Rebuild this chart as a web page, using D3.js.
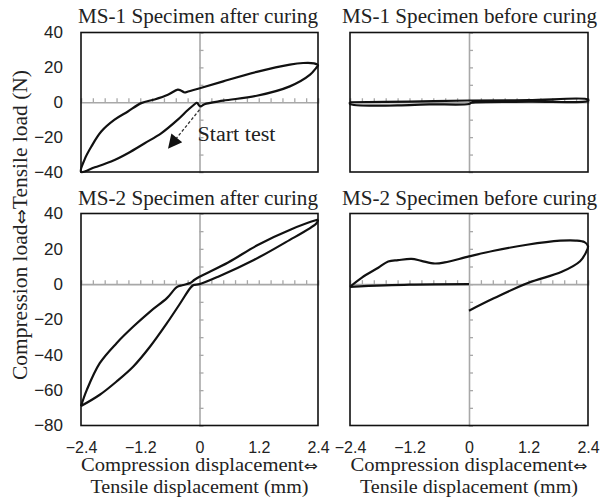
<!DOCTYPE html>
<html>
<head>
<meta charset="utf-8">
<script src="https://cdn.jsdelivr.net/npm/d3@7"></script>
<style>
  body { margin: 0; background: #fff; }
  svg { display: block; }
</style>
</head>
<body>
<svg id="chart" width="609" height="499"></svg>
<script>
// data (displacement mm, load N)
var xTicks = [-2.4, -1.2, 0, 1.2, 2.4];
var yTicksTop = [-40, -20, 0, 20, 40];
var yTicksBottom = [-80, -60, -40, -20, 0, 20, 40];

var ms1After = [
  [-0.05, 0], [-0.23, -4.3], [-0.44, -10], [-0.77, -17.7], [-1.11, -23.5], [-1.45, -29.2],
  [-1.79, -34], [-2.12, -37.3], [-2.4, -40],
  [-2.33, -33], [-2.19, -25.4], [-1.99, -16.8], [-1.72, -10], [-1.45, -5.3], [-1.18, -0.5],
  [-0.91, 1.6], [-0.64, 4.3], [-0.44, 7.2], [-0.37, 6.6], [-0.3, 5.6], [-0.23, 6.2],
  [0.04, 8.3], [0.48, 12], [1.16, 17.4], [1.83, 21.6], [2.1, 22.5], [2.32, 22.3], [2.4, 21.2],
  [2.36, 19.6], [2.24, 15.8], [1.83, 9.1], [1.16, 3.7], [0.48, 0.9], [0.1, -1.1], [0.02, -2.4],
  [-0.05, 0]
];
var ms1Before = [
  [-2.4, 0], [-1.2, 0.4], [0, 1], [1.2, 1.2], [2.4, 1.6],
  [2.4, 0.8], [1.2, 0.3], [0.05, -0.3], [0, -1], [-0.8, -1.2], [-1.2, -1.6], [-2.4, -1], [-2.4, 0]
];
var ms2AfterUpper = [
  [2.4, 36.5], [2.37, 36.3], [1.85, 31], [1.2, 22.5], [0.58, 12.3], [0, 4.2], [-0.1, 2.5],
  [-0.19, 0.6], [-0.35, -0.6], [-0.46, -1.7], [-0.66, -7.9], [-1.0, -15.5], [-1.34, -24],
  [-1.68, -33.4], [-2.02, -44.7], [-2.28, -59.7], [-2.4, -69]
];
var ms2AfterLower = [
  [-2.4, -69], [-2.02, -62.6], [-1.68, -55.1], [-1.34, -46.6], [-1.0, -35.3], [-0.66, -22.1],
  [-0.39, -10.8], [-0.19, -2.3], [-0.12, -0.5], [0, 0], [0.4, 4.5], [1.1, 13.7], [1.75, 23.8],
  [2.37, 34.5], [2.4, 36.5]
];
var ms2BeforeFlat = [[0, 0], [-1.2, -0.3], [-2.4, -1.5]];
var ms2BeforeLoop = [
  [-2.4, -1.5], [-2.16, 3.7], [-1.83, 9.3], [-1.63, 12.8], [-1.43, 13.6], [-1.16, 14.3],
  [-0.96, 13.2], [-0.69, 11.7], [-0.49, 12.3], [0, 15.7], [0.5, 18.9], [1.17, 22.3],
  [1.84, 24.6], [2.15, 24.7], [2.33, 23.8], [2.4, 21.5], [2.36, 18], [2.24, 13], [1.87, 7],
  [1.2, 0.8], [0.5, -8], [0, -15]
];

var panels = [
  { title: 'MS-1 Specimen after curing', col: 0, row: 0, curves: [ms1After] },
  { title: 'MS-1 Specimen before curing', col: 1, row: 0, curves: [ms1Before] },
  { title: 'MS-2 Specimen after curing', col: 0, row: 1, curves: [ms2AfterUpper, ms2AfterLower] },
  { title: 'MS-2 Specimen before curing', col: 1, row: 1, curves: [ms2BeforeFlat, ms2BeforeLoop] }
];

var cols = [[81, 318], [350, 588]],
    rows = [{ range: [172, 32.5], domain: [-40, 40], ticks: yTicksTop, titleY: 23 },
            { range: [425.5, 213.5], domain: [-80, 40], ticks: yTicksBottom, titleY: 205 }],
    titleX = [78, 342],
    titleWidth = [240, 255],
    grey = '#a8a8a8',
    serif = "'Liberation Serif', 'Times New Roman', serif",
    sans = "'Liberation Sans', Arial, sans-serif",
    arrowFont = "'DejaVu Sans', sans-serif";

var svg = d3.select('#chart');
var fmt = function (d) { return d === 0 ? '0' : d3.format('.1f')(d); };

svg.append('defs').append('marker')
  .attr('id', 'head').attr('viewBox', '0 0 10 10').attr('refX', 9).attr('refY', 5)
  .attr('markerWidth', 16).attr('markerHeight', 14).attr('markerUnits', 'userSpaceOnUse')
  .attr('orient', 'auto')
  .append('path').attr('d', 'M0,0L10,5L0,10Z').attr('fill', '#111');

panels.forEach(function (p) {
  var x = d3.scaleLinear().domain([-2.4, 2.4]).range(cols[p.col]),
      y = d3.scaleLinear().domain(rows[p.row].domain).range(rows[p.row].range);
  var g = svg.append('g');

  // zero lines with minor ticks
  var hx = g.append('g').attr('transform', 'translate(0,' + y(0) + ')')
    .call(d3.axisTop(x).tickValues(d3.range(-2.16, 2.2, 0.24)).tickSize(4).tickFormat(''));
  var vy = g.append('g').attr('transform', 'translate(' + x(0) + ',0)')
    .call(d3.axisRight(y).tickValues(d3.range(rows[p.row].domain[0] + 10, rows[p.row].domain[1], 10)).tickSize(4).tickFormat(''));
  [hx, vy].forEach(function (a) {
    a.selectAll('path,line').attr('stroke', grey).attr('stroke-width', 1.3);
    a.select('.domain').attr('stroke-width', 1.6);
  });

  // frame
  g.append('rect')
    .attr('x', x(-2.4)).attr('y', y.range()[1])
    .attr('width', x(2.4) - x(-2.4)).attr('height', y.range()[0] - y.range()[1])
    .attr('fill', 'none').attr('stroke', '#111').attr('stroke-width', 1.6);

  var line = d3.line().x(function (d) { return x(d[0]); }).y(function (d) { return y(d[1]); })
    .curve(d3.curveCatmullRom.alpha(0.5));
  p.curves.forEach(function (c) {
    g.append('path').attr('d', line(c)).attr('fill', 'none')
      .attr('stroke', '#111').attr('stroke-width', 2.2).attr('stroke-linejoin', 'round');
  });

  g.append('text')
    .attr('x', titleX[p.col]).attr('y', rows[p.row].titleY)
    .attr('font-family', serif).attr('font-size', 20).attr('fill', '#222')
    .attr('textLength', titleWidth[p.col]).attr('lengthAdjust', 'spacingAndGlyphs')
    .text(p.title);

  if (p.col === 0) {
    var ya = g.append('g').attr('transform', 'translate(' + x(-2.4) + ',0)')
      .call(d3.axisLeft(y).tickValues(rows[p.row].ticks).tickSize(0).tickPadding(18));
    ya.select('.domain').remove();
    ya.selectAll('text').attr('font-family', sans).attr('font-size', 17).attr('fill', '#222');
  }
  if (p.row === 1) {
    var xa = g.append('g').attr('transform', 'translate(0,' + y.range()[0] + ')')
      .call(d3.axisBottom(x).tickValues(xTicks).tickSize(0).tickPadding(16).tickFormat(fmt));
    xa.select('.domain').remove();
    xa.selectAll('text').attr('font-family', sans).attr('font-size', 16).attr('fill', '#222');

    var cx = (x(-2.4) + x(2.4)) / 2;
    var t1 = g.append('text').attr('x', cx).attr('y', 471).attr('text-anchor', 'middle')
      .attr('font-family', serif).attr('font-size', 18).attr('fill', '#222')
      .attr('textLength', 237).attr('lengthAdjust', 'spacingAndGlyphs');
    t1.append('tspan').text('Compression displacement');
    t1.append('tspan').attr('font-family', arrowFont).attr('font-size', 15).text('\u21D4');
    g.append('text').attr('x', cx).attr('y', 493).attr('text-anchor', 'middle')
      .attr('font-family', serif).attr('font-size', 19).attr('fill', '#222')
      .attr('textLength', 218).attr('lengthAdjust', 'spacingAndGlyphs')
      .text('Tensile displacement (mm)');
  }

  // "Start test" note on the first panel
  if (p.col === 0 && p.row === 0) {
    g.append('line')
      .attr('x1', x(0)).attr('y1', y(-4.3)).attr('x2', x(-0.62)).attr('y2', y(-26))
      .attr('stroke', '#333').attr('stroke-width', 1.3).attr('stroke-dasharray', '3,2')
      .attr('marker-end', 'url(#head)');
    g.append('text').attr('x', x(0) - 2).attr('y', 141)
      .attr('font-family', serif).attr('font-size', 20).attr('fill', '#222')
      .attr('textLength', 78).attr('lengthAdjust', 'spacingAndGlyphs')
      .text('Start test');
  }
});

var yl = svg.append('text')
  .attr('transform', 'translate(27,225) rotate(-90)')
  .attr('text-anchor', 'middle')
  .attr('font-family', serif).attr('font-size', 20).attr('fill', '#222')
  .attr('textLength', 310).attr('lengthAdjust', 'spacingAndGlyphs');
yl.append('tspan').text('Compression load');
yl.append('tspan').attr('font-family', arrowFont).attr('font-size', 17).text('\u21D4');
yl.append('tspan').text('Tensile load (N)');
</script>
</body>
</html>
